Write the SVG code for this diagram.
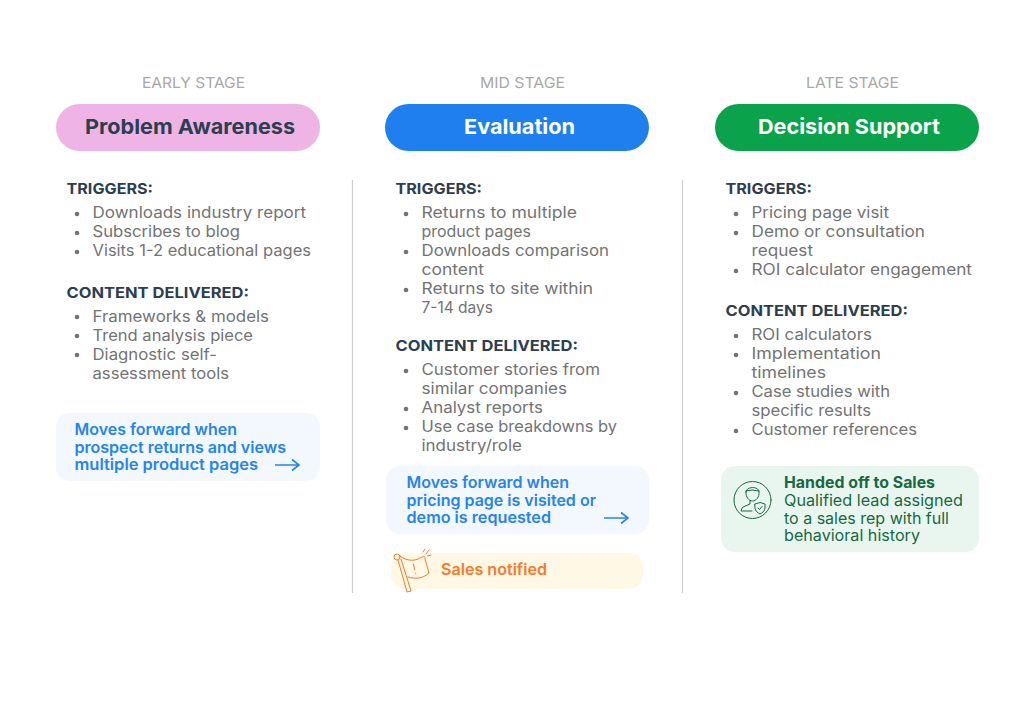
<svg xmlns="http://www.w3.org/2000/svg" width="1024" height="723" viewBox="0 0 1024 723">
<style>
text{font-family:"Inter","Noto Sans","Liberation Sans",sans-serif}
.stage{font-size:14.5px;fill:#a8a8a8}
.pill{font-size:20.500px;font-weight:700}
.h{font-size:15px;font-weight:700;fill:#2c3e50}
.b{font-size:15.500px;fill:#737373}
.blue{font-size:15.500px;font-weight:600;fill:#2584ee}
.or{font-size:15.500px;font-weight:600;fill:#f8792a}
.gr{font-size:15.500px;fill:#17693f}
.grb{font-size:15.500px;font-weight:700;fill:#17693f}
.div{stroke:#cfcfcf;stroke-width:1.2;fill:none}
.arr{stroke:#2584ee;stroke-width:1.6;fill:none}
.dot{fill:#737373}
.fl{stroke:#f8792a;stroke-width:1;fill:none;stroke-linecap:round;stroke-linejoin:round}
.pr{stroke:#17693f;stroke-width:1;fill:none;stroke-linecap:round;stroke-linejoin:round}
</style>
<rect width="1024" height="723" fill="#fff"/>
<g id="early">
<text class="stage" x="142" y="88" textLength="103" lengthAdjust="spacingAndGlyphs">EARLY STAGE</text>
<rect x="56" y="104" width="264" height="47" rx="23.500" fill="#efb4e6"/>
<text class="pill" x="85" y="134" fill="#2c3e50" textLength="210" lengthAdjust="spacingAndGlyphs">Problem Awareness</text>
<text class="h" x="66.500" y="194" textLength="86.500" lengthAdjust="spacingAndGlyphs">TRIGGERS:</text>
<circle class="dot" cx="77" cy="214" r="2.300"/><circle class="dot" cx="77" cy="233" r="2.300"/><circle class="dot" cx="77" cy="252" r="2.300"/>
<text class="b" x="92.500" y="218" textLength="213.500" lengthAdjust="spacingAndGlyphs">Downloads industry report</text>
<text class="b" x="92.500" y="237" textLength="147.500" lengthAdjust="spacingAndGlyphs">Subscribes to blog</text>
<text class="b" x="92.500" y="256" textLength="218.500" lengthAdjust="spacingAndGlyphs">Visits 1-2 educational pages</text>
<text class="h" x="66.500" y="298" textLength="182.500" lengthAdjust="spacingAndGlyphs">CONTENT DELIVERED:</text>
<circle class="dot" cx="77" cy="317" r="2.300"/><circle class="dot" cx="77" cy="336" r="2.300"/><circle class="dot" cx="77" cy="355" r="2.300"/>
<text class="b" x="92.500" y="322" textLength="176.500" lengthAdjust="spacingAndGlyphs">Frameworks &amp; models</text>
<text class="b" x="92.500" y="341" textLength="160.500" lengthAdjust="spacingAndGlyphs">Trend analysis piece</text>
<text class="b" x="92.500" y="360" textLength="124.500" lengthAdjust="spacingAndGlyphs">Diagnostic self-</text>
<text class="b" x="92.500" y="379" textLength="136.500" lengthAdjust="spacingAndGlyphs">assessment tools</text>
</g>
<g id="early-next">
<rect x="56" y="413" width="264" height="68" rx="14" fill="#f3f8fe"/>
<text class="blue" x="74.500" y="435" textLength="162.500" lengthAdjust="spacingAndGlyphs">Moves forward when</text>
<text class="blue" x="74.500" y="453" textLength="211.500" lengthAdjust="spacingAndGlyphs">prospect returns and views</text>
<text class="blue" x="74.500" y="470" textLength="183.500" lengthAdjust="spacingAndGlyphs">multiple product pages</text>
</g>
<g id="mid">
<text class="stage" x="480" y="88" textLength="85" lengthAdjust="spacingAndGlyphs">MID STAGE</text>
<rect x="385" y="104" width="264" height="47" rx="23.500" fill="#1f7fef"/>
<text class="pill" x="464" y="134" fill="#fff" textLength="111" lengthAdjust="spacingAndGlyphs">Evaluation</text>
<text class="h" x="395.500" y="194" textLength="86.500" lengthAdjust="spacingAndGlyphs">TRIGGERS:</text>
<circle class="dot" cx="406" cy="214" r="2.300"/><circle class="dot" cx="406" cy="252" r="2.300"/><circle class="dot" cx="406" cy="290" r="2.300"/>
<text class="b" x="421.500" y="218" textLength="155.500" lengthAdjust="spacingAndGlyphs">Returns to multiple</text>
<text class="b" x="421.500" y="237" textLength="109.500" lengthAdjust="spacingAndGlyphs">product pages</text>
<text class="b" x="421.500" y="256" textLength="187.500" lengthAdjust="spacingAndGlyphs">Downloads comparison</text>
<text class="b" x="421.500" y="275" textLength="62.500" lengthAdjust="spacingAndGlyphs">content</text>
<text class="b" x="421.500" y="294" textLength="171.500" lengthAdjust="spacingAndGlyphs">Returns to site within</text>
<text class="b" x="421.500" y="313" textLength="71.500" lengthAdjust="spacingAndGlyphs">7-14 days</text>
<text class="h" x="395.500" y="351" textLength="182.500" lengthAdjust="spacingAndGlyphs">CONTENT DELIVERED:</text>
<circle class="dot" cx="406" cy="371" r="2.300"/><circle class="dot" cx="406" cy="409" r="2.300"/><circle class="dot" cx="406" cy="428" r="2.300"/>
<text class="b" x="421.500" y="375" textLength="178.500" lengthAdjust="spacingAndGlyphs">Customer stories from</text>
<text class="b" x="421.500" y="394" textLength="145.500" lengthAdjust="spacingAndGlyphs">similar companies</text>
<text class="b" x="421.500" y="413" textLength="121.500" lengthAdjust="spacingAndGlyphs">Analyst reports</text>
<text class="b" x="421.500" y="432" textLength="195.500" lengthAdjust="spacingAndGlyphs">Use case breakdowns by</text>
<text class="b" x="421.500" y="451" textLength="100.500" lengthAdjust="spacingAndGlyphs">industry/role</text>
</g>
<g id="mid-next">
<rect x="386" y="466" width="263" height="68" rx="14" fill="#f3f8fe"/>
<text class="blue" x="406.500" y="488" textLength="162.500" lengthAdjust="spacingAndGlyphs">Moves forward when</text>
<text class="blue" x="406.500" y="506" textLength="189.500" lengthAdjust="spacingAndGlyphs">pricing page is visited or</text>
<text class="blue" x="406.500" y="523" textLength="144.500" lengthAdjust="spacingAndGlyphs">demo is requested</text>
</g>
<g id="sales-notified">
<rect x="391" y="553" width="252" height="36" rx="14" fill="#fff8e5"/>
<text class="or" x="441" y="575" textLength="106" lengthAdjust="spacingAndGlyphs">Sales notified</text>
<g class="fl">
<circle cx="397" cy="557" r="3"/>
<path d="M398 560L407 592L411 591L401 559"/>
<path d="M400 556C408 562 416 561 422 557C425 556 425 557 425 559L429 573C422 579 416 579 408 577"/>
<path d="M413.500 564L414.500 570M415.500 573.500L415.800 574"/>
<path d="M423 552L425 549M426 554L429 550M427.500 556L431 555"/>
</g>
</g>
<g id="late">
<text class="stage" x="806" y="88" textLength="93" lengthAdjust="spacingAndGlyphs">LATE STAGE</text>
<rect x="715" y="104" width="264" height="47" rx="23.500" fill="#0aa24b"/>
<text class="pill" x="758" y="134" fill="#fff" textLength="182" lengthAdjust="spacingAndGlyphs">Decision Support</text>
<text class="h" x="725.500" y="194" textLength="86.500" lengthAdjust="spacingAndGlyphs">TRIGGERS:</text>
<circle class="dot" cx="736" cy="214" r="2.300"/><circle class="dot" cx="736" cy="233" r="2.300"/><circle class="dot" cx="736" cy="271" r="2.300"/>
<text class="b" x="751.500" y="218" textLength="137.500" lengthAdjust="spacingAndGlyphs">Pricing page visit</text>
<text class="b" x="751.500" y="237" textLength="173.500" lengthAdjust="spacingAndGlyphs">Demo or consultation</text>
<text class="b" x="751.500" y="256" textLength="61.500" lengthAdjust="spacingAndGlyphs">request</text>
<text class="b" x="751.500" y="275" textLength="220.500" lengthAdjust="spacingAndGlyphs">ROI calculator engagement</text>
<text class="h" x="725.500" y="316" textLength="182.500" lengthAdjust="spacingAndGlyphs">CONTENT DELIVERED:</text>
<circle class="dot" cx="736" cy="336" r="2.300"/><circle class="dot" cx="736" cy="355" r="2.300"/><circle class="dot" cx="736" cy="393" r="2.300"/><circle class="dot" cx="736" cy="431" r="2.300"/>
<text class="b" x="751.500" y="340" textLength="120.500" lengthAdjust="spacingAndGlyphs">ROI calculators</text>
<text class="b" x="751.500" y="359" textLength="129.500" lengthAdjust="spacingAndGlyphs">Implementation</text>
<text class="b" x="751.500" y="378" textLength="74.500" lengthAdjust="spacingAndGlyphs">timelines</text>
<text class="b" x="751.500" y="397" textLength="138.500" lengthAdjust="spacingAndGlyphs">Case studies with</text>
<text class="b" x="751.500" y="416" textLength="119.500" lengthAdjust="spacingAndGlyphs">specific results</text>
<text class="b" x="751.500" y="435" textLength="165.500" lengthAdjust="spacingAndGlyphs">Customer references</text>
</g>
<g id="handoff">
<rect x="721" y="466" width="258" height="86" rx="14" fill="#e9f6f0"/>
<text class="grb" x="784" y="488" textLength="151" lengthAdjust="spacingAndGlyphs">Handed off to Sales</text>
<text class="gr" x="784" y="506" textLength="179" lengthAdjust="spacingAndGlyphs">Qualified lead assigned</text>
<text class="gr" x="784" y="524" textLength="165" lengthAdjust="spacingAndGlyphs">to a sales rep with full</text>
<text class="gr" x="784" y="541" textLength="136" lengthAdjust="spacingAndGlyphs">behavioral history</text>
<g class="pr">
<circle cx="752.500" cy="500" r="18.500"/>
<path d="M746 492C746 486 759 486 759 492C759.500 497 756 501 752.500 501C749 501 745.500 497 746 492Z"/>
<path d="M746 491L752 490L759 491"/>
<path d="M750 501V504L743 507C741.500 508 741.500 510 741 511H752"/>
<path d="M755 504L760 502.500L765 504V508C765 511 762 513 760 514C758 513 755 511 755 508Z"/>
<path d="M758 508L759.500 509.500L762 506.500"/>
</g>
</g>
<g id="connectors">
<path class="div" d="M352.500 180V593M682.500 180V593"/>
<path class="arr" d="M275 465H299M292 459.500L299 465L292 470.500"/>
<path class="arr" d="M604 518H628M621 512.500L628 518L621 523.500"/>
</g>
</svg>
